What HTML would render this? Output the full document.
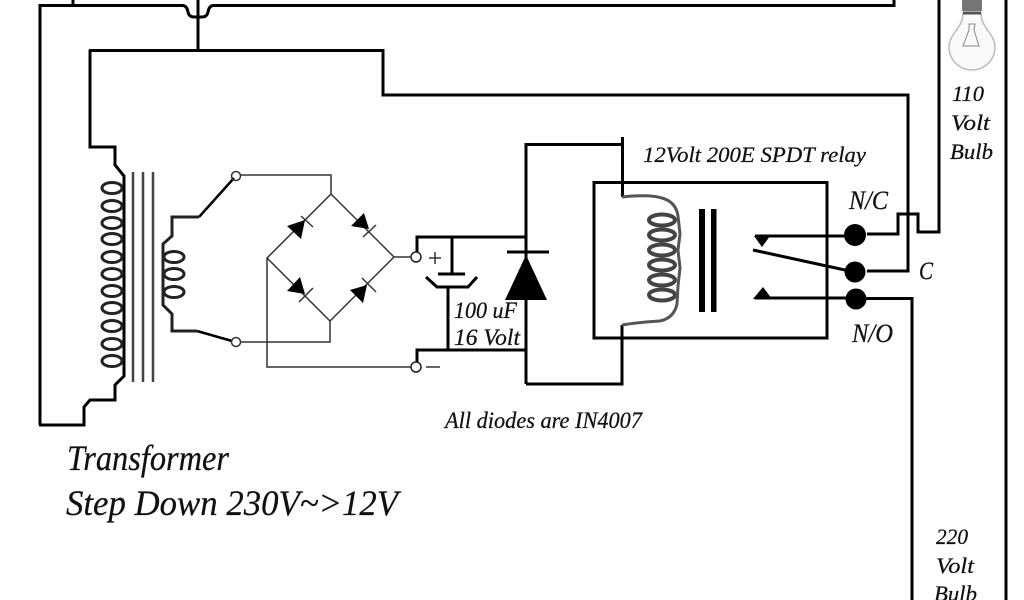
<!DOCTYPE html>
<html><head><meta charset="utf-8"><style>html,body{margin:0;padding:0;background:#fff;width:1024px;height:600px;overflow:hidden}svg{display:block}text{font-family:"Liberation Serif",serif;font-style:italic;fill:#111;stroke:#111;stroke-width:.25}</style></head><body>
<svg width="1024" height="600" viewBox="0 0 1024 600" xmlns="http://www.w3.org/2000/svg">
<rect width="1024" height="600" fill="#fff"/>
<g fill="none" stroke="#000" stroke-width="3">
<path d="M73 0V6M40 425V5.500H183Q187 6 188 12Q189 17 194 17H202Q207 17 208 12Q209 6 213 5.500H894V0"/>
<path d="M198 0V50"/>
<path d="M89 50.500H383V95H908V271H867"/>
<path d="M90 50V147H115V165L124 176V376L115 385V400H90L84 407V425H39"/>
<path d="M939 0V232H918V214H898V234H867"/>
<path d="M1006 0V600"/>
<path d="M853 298.500H912V600"/>
<path d="M594 182.500H827V338H594Z"/>
<path d="M526 384V144.500H622.500M622.500 137V197M622 325V384H526"/>
<path d="M417 257V237H526M452 237V273M438 274H465M426 277L437 287H468L477 277M448 287V350M417 367V350H526"/>
<path d="M507 252H549"/>
<path d="M753 250L845 270M755 236H855M755 298H855"/>
</g>
<g fill="none" stroke="#222" stroke-width="3">
<ellipse cx="112" cy="188" rx="10" ry="5.500"/><ellipse cx="112" cy="206" rx="10" ry="5.500"/><ellipse cx="112" cy="223" rx="10" ry="5.500"/><ellipse cx="112" cy="239" rx="10" ry="5.500"/><ellipse cx="112" cy="257" rx="10" ry="5.500"/><ellipse cx="112" cy="274" rx="10" ry="5.500"/><ellipse cx="112" cy="291" rx="10" ry="5.500"/><ellipse cx="112" cy="308" rx="10" ry="5.500"/><ellipse cx="112" cy="326" rx="10" ry="5.500"/><ellipse cx="112" cy="344" rx="10" ry="5.500"/><ellipse cx="112" cy="361" rx="10" ry="5.500"/>
<ellipse cx="174" cy="257" rx="10" ry="5.500"/><ellipse cx="174" cy="274" rx="10" ry="5.500"/><ellipse cx="174" cy="292" rx="10" ry="5.500"/>
<path d="M199 217H172V236L163 244V305L172 314V331H197"/>
<g stroke="#444" stroke-width="4"><ellipse cx="662" cy="220" rx="13" ry="5.500"/><ellipse cx="662" cy="235" rx="13" ry="5.500"/><ellipse cx="662" cy="250" rx="13" ry="5.500"/><ellipse cx="662" cy="265" rx="13" ry="5.500"/><ellipse cx="662" cy="280" rx="13" ry="5.500"/><ellipse cx="662" cy="295" rx="13" ry="5.500"/></g>
<path stroke="#555" d="M622 197Q650 194 662 198Q676 202 678 216L680 234L678 250L680 268L678 286L677 304Q674 318 660 321Q640 322 622 325"/>
</g>
<path d="M133 172V382M143 172V382M153 172V382" stroke="#444" stroke-width="2.500"/>
<path d="M199 217L234 178M197 331L232 341" stroke="#000" stroke-width="2.500"/>
<g fill="none" stroke="#333" stroke-width="1.500">
<path d="M240 175H331V194L394 257L330 321V342H240M331 194L267 258L330 321M394 257H411M267 258V367H411"/>
<circle cx="236" cy="176" r="4.500"/><circle cx="236" cy="342" r="4.500"/>
<path d="M301 216L313 227M363 237L376 225M299 302L313 288M362 278L376 292"/>
</g>
<circle cx="416" cy="257" r="5" fill="#fff" stroke="#222" stroke-width="1.500"/>
<circle cx="416" cy="367" r="5" fill="#fff" stroke="#222" stroke-width="1.500"/>
<path d="M429 258H441M435 252V264M426 367H440" stroke="#333" stroke-width="1.500"/>
<g fill="#000">
<path d="M287 226L301 239L305 220ZM351 226L364 213L369 229ZM287 291L300 277L305 294ZM350 290L363 303L367 285Z"/>
<path d="M526 255L505 300H547Z"/>
<rect x="699" y="209" width="6" height="103"/><rect x="711" y="209" width="5.500" height="103"/>
<circle cx="855" cy="235" r="11"/><circle cx="855" cy="272" r="10.500"/><circle cx="856" cy="299" r="10.500"/>
<path d="M754 236H770L762 247ZM753 299L763 287L772 299Z"/>
</g>
<g>
<path d="M963 13C963 28 949 34 949 47A23 23 0 0 0 995 47C995 34 981 28 981 13Z" fill="#fafafa" stroke="#bbb" stroke-width="1.500"/>
<rect x="962" y="0" width="20" height="11" fill="#777"/>
<path d="M963 13H981" stroke="#555" stroke-width="3"/>
<path d="M969 24H975L974 30L979 46H963L969 30Z" fill="none" stroke="#888"/>
</g>
<text x="67" y="470" font-size="36" textLength="162" lengthAdjust="spacingAndGlyphs">Transformer</text>
<text x="66" y="515" font-size="36" textLength="332" lengthAdjust="spacingAndGlyphs">Step Down 230V~&gt;12V</text>
<text x="643" y="162" font-size="22" textLength="223" lengthAdjust="spacingAndGlyphs">12Volt 200E SPDT relay</text>
<text x="445" y="428" font-size="23" textLength="197" lengthAdjust="spacingAndGlyphs">All diodes are IN4007</text>
<text x="849" y="209" font-size="26" textLength="39" lengthAdjust="spacingAndGlyphs">N/C</text>
<text x="852" y="342" font-size="26" textLength="41" lengthAdjust="spacingAndGlyphs">N/O</text>
<text x="919" y="279" font-size="25" textLength="14" lengthAdjust="spacingAndGlyphs">C</text>
<text x="454" y="318" font-size="23" textLength="63" lengthAdjust="spacingAndGlyphs">100 uF</text>
<text x="454" y="345" font-size="23" textLength="66" lengthAdjust="spacingAndGlyphs">16 Volt</text>
<text x="952" y="101" font-size="22" textLength="32" lengthAdjust="spacingAndGlyphs">110</text>
<text x="951" y="130" font-size="22" textLength="39" lengthAdjust="spacingAndGlyphs">Volt</text>
<text x="950" y="159" font-size="22" textLength="43" lengthAdjust="spacingAndGlyphs">Bulb</text>
<text x="936" y="544" font-size="22" textLength="32" lengthAdjust="spacingAndGlyphs">220</text>
<text x="936" y="573" font-size="22" textLength="38" lengthAdjust="spacingAndGlyphs">Volt</text>
<text x="934" y="601" font-size="22" textLength="43" lengthAdjust="spacingAndGlyphs">Bulb</text>
</svg>
</body></html>
